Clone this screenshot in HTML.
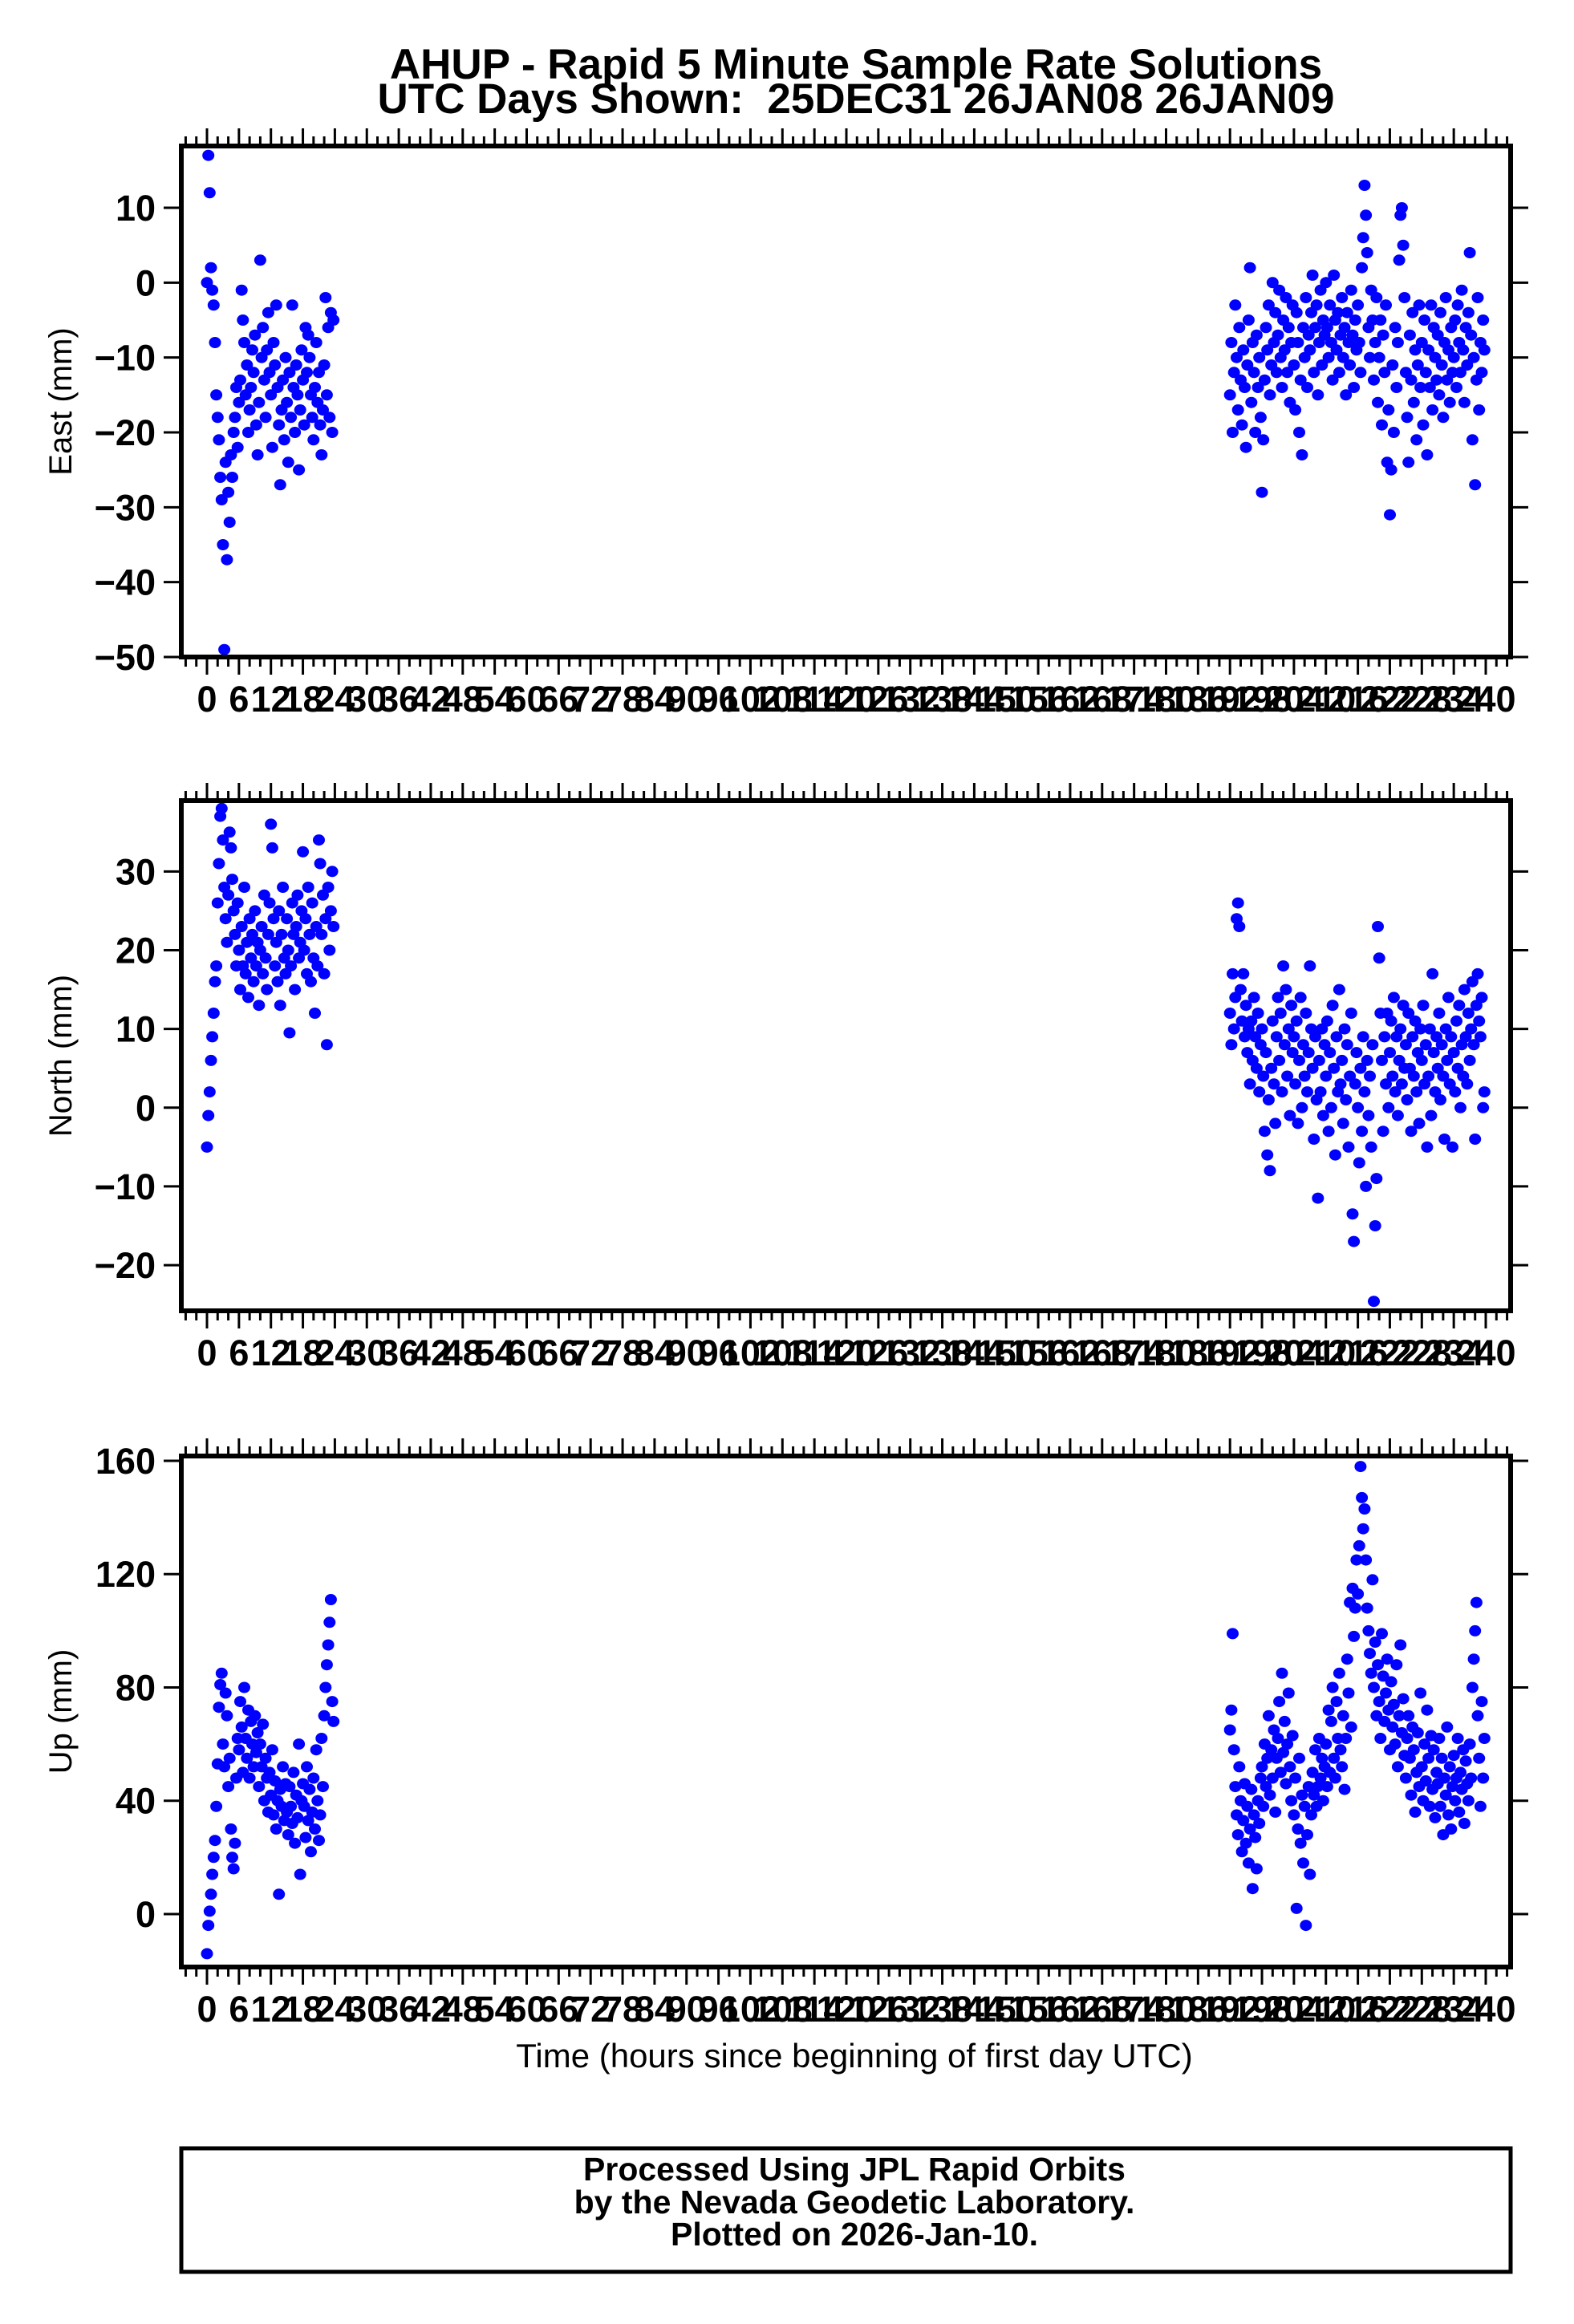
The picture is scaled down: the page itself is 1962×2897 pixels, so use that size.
<!DOCTYPE html>
<html><head><meta charset="utf-8"><style>
html,body{margin:0;padding:0;background:#fff}
svg{display:block}
text{font-family:"Liberation Sans",Arial,sans-serif;fill:#000}
</style></head><body>
<svg id="chart" width="1962" height="2897" viewBox="0 0 1962 2897" xmlns="http://www.w3.org/2000/svg">
<text x="1067" y="98" font-size="53" font-weight="bold" text-anchor="middle">AHUP - Rapid 5 Minute Sample Rate Solutions</text>
<text x="1067" y="141" font-size="53" font-weight="bold" text-anchor="middle" xml:space="preserve">UTC Days Shown:  25DEC31 26JAN08 26JAN09</text>
<text x="1065" y="2577" font-size="42" text-anchor="middle">Time (hours since beginning of first day UTC)</text>
<rect x="226" y="2678" width="1657" height="154" fill="none" stroke="#000" stroke-width="5"/>
<text x="1065" y="2718" font-size="41" font-weight="bold" text-anchor="middle">Processed Using JPL Rapid Orbits</text>
<text x="1065" y="2759" font-size="41" font-weight="bold" text-anchor="middle">by the Nevada Geodetic Laboratory.</text>
<text x="1065" y="2799" font-size="41" font-weight="bold" text-anchor="middle">Plotted on 2026-Jan-10.</text>
</svg>
<script>
// time sampling (hours)
const seg1Start = 0, seg2Start = 192, stepHours = 0.25;
const eastDay1 = [0,17,12,2,-1,-3,-8,-15,-18,-21,-26,-29,-35,-49,-24,-37,-28,-32,-23,-26,
-20,-18,-14,-22,-16,-13,-1,-5,-8,-15,-11,-20,-17,-14,-9,-12,-7,-19,-23,-16,
3,-10,-6,-13,-18,-9,-4,-12,-15,-22,-8,-11,-3,-14,-19,-27,-17,-13,-21,-10,
-16,-24,-12,-18,-3,-14,-20,-11,-15,-25,-17,-9,-13,-19,-6,-12,-7,-10,-15,-18,
-21,-14,-8,-16,-12,-19,-23,-17,-11,-2,-15,-6,-18,-4,-20,-5];
const eastDay2 = [-15,-8,-20,-12,-3,-10,-17,-6,-13,-19,-9,-14,
-22,-11,-5,2,-16,-8,-12,-20,-7,-14,-10,-18,
-28,-21,-13,-6,-9,-3,-15,-11,0,-8,-4,-12,
-7,-1,-10,-14,-5,-9,-2,-12,-6,-16,-8,-3,
-11,-17,-4,-8,-20,-13,-23,-6,-10,-2,-14,-7,
-9,-4,1,-12,-6,-3,-15,-8,-1,-11,-5,-7,
0,-6,-10,-3,-8,-13,1,-5,-9,-4,-12,-7,
-2,-10,-6,-15,-4,-8,-11,-1,-7,-14,-5,-9,
-3,-8,-12,2,6,13,9,4,-6,-10,-1,-5,
-13,-8,-2,-16,-10,-5,-19,-7,-12,-3,-24,-17,
-31,-25,-11,-20,-6,-14,-8,3,9,10,5,-2,
-12,-18,-24,-7,-13,-4,-16,-9,-21,-11,-3,-14,
-8,-19,-5,-12,-23,-9,-14,-3,-17,-6,-10,-13,
-7,-15,-4,-11,-18,-8,-2,-13,-9,-16,-6,-12,
-10,-5,-14,-3,-8,-12,-1,-9,-16,-6,-11,-4,
4,-7,-21,-10,-27,-13,-2,-17,-8,-12,-5,-9];
const northDay1 = [-5,-1,2,6,9,12,16,18,26,31,37,38,
34,28,24,21,27,35,33,29,25,22,18,26,
20,15,23,18,28,17,21,14,24,19,22,16,
25,18,21,13,20,23,17,27,19,15,22,26,
36,33,24,18,21,16,25,13,22,28,19,17,
24,20,9.5,18,26,22,15,23,27,19,21,25,
32.5,20,24,17,28,22,16,26,19,12,23,18,
34,31,22,27,17,24,8,28,20,25,30,23];
const northDay2 = [12,8,17,10,14,24,26,23,15,11,17,9,
13,7,10,3,11,6,14,9,5,12,2,8,
10,4,-3,7,-6,1,-8,5,11,3,-2,9,
14,6,12,2,18,8,15,4,10,-1,13,7,
9,3,11,-2,6,14,0,8,4,12,2,7,
18,10,5,-4,9,1,-11.5,6,2,10,-1,8,
4,11,-3,7,0,13,5,-6,9,2,15,3,
6,-2,10,1,8,-5,4,12,-13.5,-17,3,7,
0,-7,5,-3,9,2,-10,6,-1,4,-5,8,
-24.6,-15,-9,23,19,12,6,-3,9,3,12,0,
7,11,4,14,2,9,-1,6,10,3,13,5,
8,1,12,5,-3,9,4,11,2,7,-2,10,
6,13,3,8,-5,4,10,-1,17,7,2,9,
5,12,1,8,4,-4,10,6,14,3,9,-5,
7,2,11,5,13,0,8,4,15,9,3,12,
6,10,16,8,-4,13,17,11,9,14,0,2];
const upDay1 = [-14,-4,1,7,14,20,26,38,53,73,81,85,
60,52,78,70,45,55,30,20,16,25,48,62,
58,75,66,50,80,62,55,72,48,68,60,52,
70,57,64,45,60,52,67,40,55,48,36,50,
42,58,35,47,30,40,7,44,38,52,33,46,
36,28,45,38,32,50,25,42,34,60,14,40,
46,38,27,52,33,44,22,36,48,30,58,40,
26,35,62,45,70,80,88,95,103,111,75,68];
const upDay2 = [65,72,99,58,45,35,28,52,40,22,33,46,
25,38,18,30,44,9,35,27,16,40,32,48,
52,38,60,45,55,70,42,58,48,65,36,55,
62,75,50,85,57,68,46,60,78,52,40,63,
35,48,2,30,55,25,42,18,38,-4,28,45,
14,35,50,42,58,38,45,62,48,55,40,52,
60,45,72,50,68,80,55,48,75,62,85,58,
52,70,44,62,90,78,110,66,115,98,108,125,
113,130,158,147,136,143,125,108,100,92,85,118,
80,96,70,88,75,62,99,84,68,78,90,72,
58,82,66,74,60,88,52,70,95,64,76,56,
48,62,70,55,42,66,58,36,50,64,45,78,
52,40,60,47,72,55,38,63,44,58,34,50,
46,62,38,55,28,48,42,66,35,52,30,45,
56,40,48,62,36,50,44,58,32,54,46,40,
60,48,80,90,100,110,70,55,38,75,48,62];
const eastTicks = [-50,-40,-30,-20,-10,0,10];
const northTicks = [-20,-10,0,10,20,30];
const upTicks = [0,40,80,120,160];
const xTickLabels = [0,6,12,18,24,30,36,42,48,54,60,66,72,78,84,90,96,102,108,114,120,126,132,138,144,150,156,162,168,174,180,186,192,198,204,210,216,222,228,234,240];

const NS="http://www.w3.org/2000/svg";
const svg=document.getElementById('chart');
const FL=226, FR=1883;
function xScale(h){return 258+(h-0)*(1852-258)/240;}
function mk(tag,attrs,parent){const e=document.createElementNS(NS,tag);for(const k in attrs)e.setAttribute(k,attrs[k]);(parent||svg).appendChild(e);return e;}

const panels=[
 {key:'east',title:'East (mm)',top:182,bottom:819,vmin:-50,vmax:18.25,ticks:eastTicks,d1:eastDay1,d2:eastDay2},
 {key:'north',title:'North (mm)',top:998,bottom:1634,vmin:-25.8,vmax:39.0,ticks:northTicks,d1:northDay1,d2:northDay2},
 {key:'up',title:'Up (mm)',top:1815,bottom:2452,vmin:-18.7,vmax:161.7,ticks:upTicks,d1:upDay1,d2:upDay2}
];
panels.forEach(p=>{
  const g=mk('g',{});
  
  
  const yScale=v=>p.bottom-(v-p.vmin)*(p.bottom-p.top)/(p.vmax-p.vmin);
  const pg=mk('g',{fill:'#0000ff'},g);
  
  
  [[p.d1,seg1Start],[p.d2,seg2Start]].forEach(([arr,t0])=>{
    arr.forEach((v,i)=>{
      const c=mk('ellipse',{cx:xScale(t0+i*stepHours).toFixed(1),cy:yScale(v).toFixed(1),rx:7.5,ry:7},pg);
      
      
    });
  });
  const fr=mk('rect',{x:FL,y:p.top,width:FR-FL,height:p.bottom-p.top,fill:'none',stroke:'#000','stroke-width':6},g);
  
  
  for(let h=-4;h<=244;h+=2){
    const x=xScale(h), major=(h%6===0);
    const L=major?19:9;
    mk('line',{x1:x,x2:x,y1:p.bottom+3,y2:p.bottom+3+L,stroke:'#000','stroke-width':3},g);
    mk('line',{x1:x,x2:x,y1:p.top-3,y2:p.top-3-L,stroke:'#000','stroke-width':3},g);
  }
  xTickLabels.forEach(h=>{
    const t=mk('text',{x:xScale(h),y:p.bottom+68,'font-size':45,'font-weight':'bold','text-anchor':'middle'},g);
    t.textContent=h;
    
    
  });
  p.ticks.forEach(v=>{
    const y=yScale(v);
    mk('line',{x1:FL-3,x2:FL-22,y1:y,y2:y,stroke:'#000','stroke-width':3},g);
    mk('line',{x1:FR+3,x2:FR+22,y1:y,y2:y,stroke:'#000','stroke-width':3},g);
    const t=mk('text',{x:194,y:y+16,'font-size':45,'font-weight':'bold','text-anchor':'end'},g);
    t.textContent=v<0?('\u2212'+Math.abs(v)):String(v);
    
    
  });
  const cy=(p.top+p.bottom)/2;
  const yt=mk('text',{x:0,y:0,'font-size':40,'text-anchor':'middle',transform:`translate(89 ${cy}) rotate(-90)`},g);
  yt.textContent=p.title;
  
  
});
</script>
</body></html>
